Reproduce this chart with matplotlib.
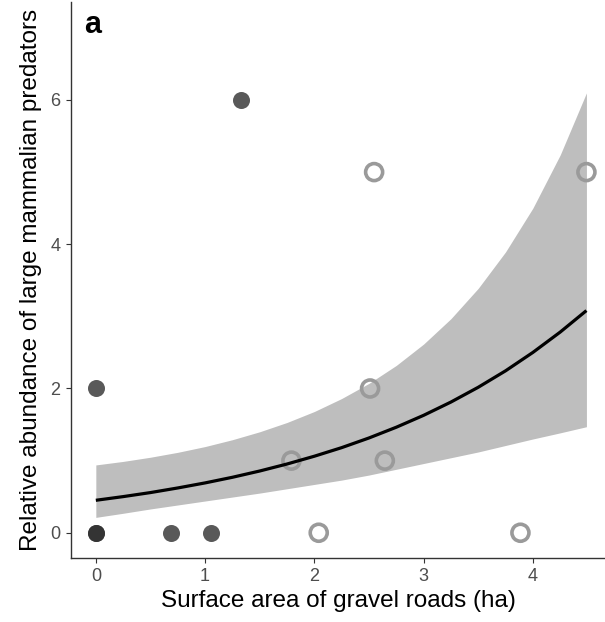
import matplotlib
matplotlib.use("Agg")
from matplotlib import pyplot as plt

plt.rcParams["font.family"] = ["Liberation Sans", "DejaVu Sans"]

# sites without gravel roads (filled) and with roads (open)
filled_x = [0, 0, 0, 0.69, 1.055, 1.327]
filled_y = [2, 0, 0, 0, 0, 6]
open_x = [1.79, 2.04, 2.51, 2.547, 2.645, 3.886, 4.49]
open_y = [1, 0, 2, 5, 1, 0, 5]

# fitted curve and 95% band
fit_x = [0, 0.25, 0.5, 0.75, 1, 1.25, 1.5, 1.75, 2, 2.25,
         2.5, 2.75, 3, 3.25, 3.5, 3.75, 4, 4.25, 4.49]
fit_y = [0.450, 0.501, 0.557, 0.621, 0.691, 0.769, 0.856, 0.953, 1.061, 1.180,
         1.314, 1.463, 1.628, 1.812, 2.017, 2.245, 2.50, 2.782, 3.08]
fit_lo = [0.213, 0.27, 0.33, 0.385, 0.44, 0.495, 0.55, 0.61, 0.67, 0.73,
          0.80, 0.88, 0.96, 1.04, 1.12, 1.21, 1.30, 1.385, 1.47]
fit_hi = [0.940, 0.989, 1.047, 1.115, 1.195, 1.290, 1.400, 1.529, 1.681, 1.861,
          2.071, 2.320, 2.616, 2.968, 3.389, 3.894, 4.501, 5.238, 6.098]

fig = plt.figure(figsize=(6.05, 6.22), dpi=100)
ax = fig.add_axes([0.1174, 0.1029, 0.8826, 0.8941])

ax.fill_between(fit_x, fit_lo, fit_hi, color="#bebebe", lw=0, zorder=1)
ax.scatter(filled_x, filled_y, s=150, color="#2a2a2a", alpha=0.78, lw=0, zorder=2)
ax.scatter(open_x, open_y, s=150, facecolors="none", edgecolors="#9a9a9a", linewidths=2.6, zorder=2)
ax.plot(fit_x, fit_y, color="black", lw=2.3, zorder=3, solid_capstyle="butt")

ax.set_xlim(-0.227, 4.66)
ax.set_ylim(-0.35, 7.36)
ax.set_xticks([0, 1, 2, 3, 4])
ax.set_yticks([0, 2, 4, 6])

for side in ["top", "right"]:
    ax.spines[side].set_visible(False)
for side in ["left", "bottom"]:
    ax.spines[side].set_color("#333333")
    ax.spines[side].set_linewidth(1.0)
ax.tick_params(colors="#333333", labelcolor="#4d4d4d", labelsize=13, length=3.5, width=0.8, pad=4)

ax.set_xlabel("Surface area of gravel roads (ha)", fontsize=17.5, labelpad=3)
ax.set_ylabel("Relative abundance of large mammalian predators", fontsize=17.5, labelpad=6)

ax.text(0.025, 0.985, "a", transform=ax.transAxes, fontsize=22, fontweight="bold", va="top", ha="left")

fig.savefig("out.png", dpi=100)
